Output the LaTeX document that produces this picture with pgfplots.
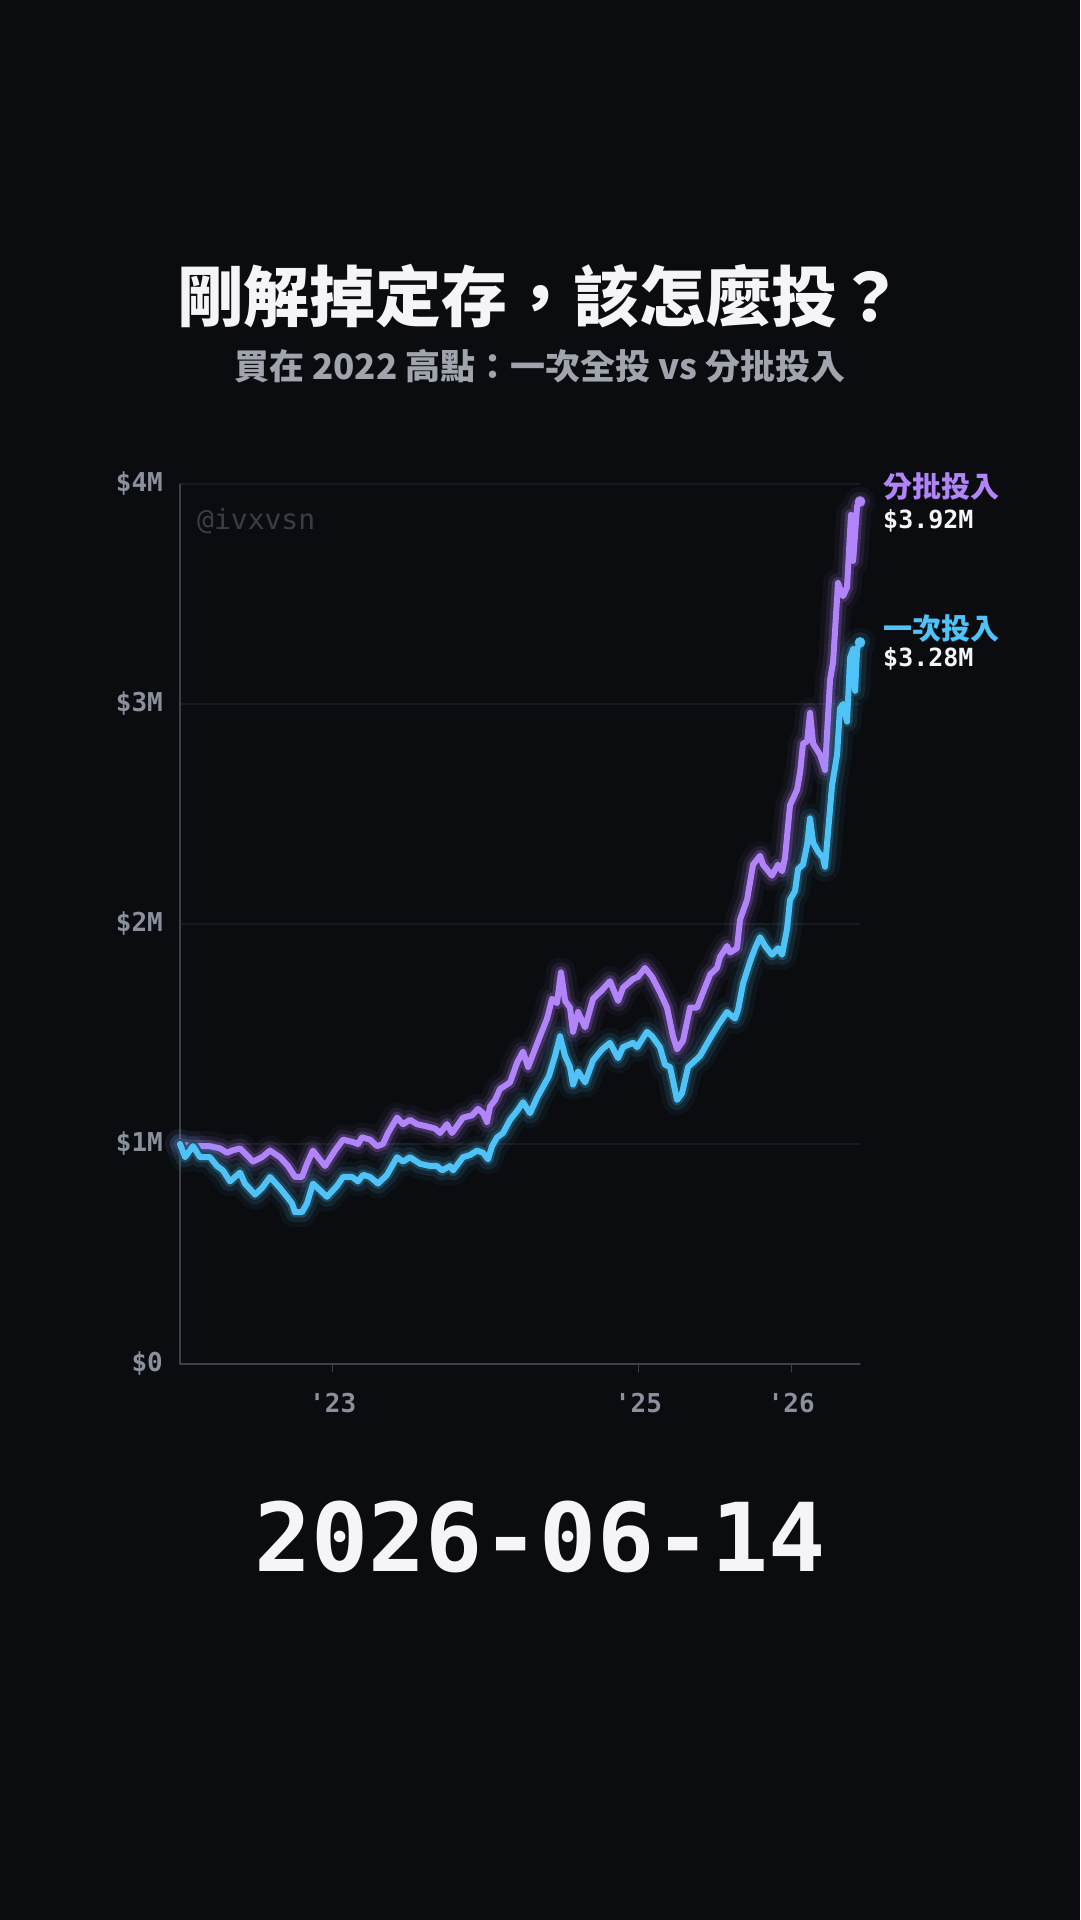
\documentclass[border=0pt]{standalone}
\usepackage{fontspec}
\usepackage{pgfplots}
\usepackage{pgfplotstable}
\pgfplotsset{compat=1.18}
\setmainfont{Noto Sans CJK TC}
\newfontfamily\mono{DejaVu Sans Mono}[Ligatures=TeXOff]
\definecolor{bgc}{HTML}{0A0C10}
\definecolor{cyanl}{HTML}{4FC3F7}
\definecolor{purpl}{HTML}{B284FA}
\definecolor{tickc}{HTML}{8A909C}
\definecolor{subc}{HTML}{A0A4AD}
\definecolor{axisc}{HTML}{3C4049}
\definecolor{gridc}{HTML}{16191F}
\definecolor{wmc}{HTML}{3A3D46}
\definecolor{titlec}{HTML}{F5F5F7}

\pgfplotstableread{
x y
2022.000 1.00
2022.033 0.94
2022.085 0.99
2022.131 0.94
2022.196 0.94
2022.242 0.90
2022.281 0.88
2022.327 0.83
2022.393 0.87
2022.425 0.82
2022.491 0.77
2022.537 0.80
2022.589 0.85
2022.654 0.80
2022.700 0.76
2022.733 0.73
2022.753 0.69
2022.798 0.69
2022.831 0.73
2022.870 0.82
2022.916 0.79
2022.962 0.76
2023.028 0.81
2023.067 0.85
2023.126 0.85
2023.165 0.83
2023.198 0.86
2023.244 0.85
2023.296 0.82
2023.355 0.86
2023.420 0.94
2023.460 0.92
2023.505 0.94
2023.571 0.91
2023.636 0.90
2023.682 0.90
2023.715 0.88
2023.767 0.90
2023.787 0.88
2023.852 0.94
2023.898 0.95
2023.944 0.97
2023.983 0.96
2024.016 0.93
2024.042 0.99
2024.075 1.03
2024.114 1.05
2024.160 1.11
2024.206 1.15
2024.245 1.19
2024.291 1.14
2024.336 1.21
2024.376 1.26
2024.415 1.31
2024.454 1.40
2024.487 1.49
2024.520 1.40
2024.552 1.35
2024.572 1.27
2024.605 1.33
2024.651 1.28
2024.703 1.38
2024.762 1.43
2024.814 1.46
2024.867 1.39
2024.899 1.44
2024.965 1.46
2024.991 1.44
2025.056 1.51
2025.089 1.49
2025.141 1.44
2025.174 1.36
2025.207 1.35
2025.253 1.20
2025.285 1.23
2025.325 1.35
2025.357 1.37
2025.403 1.40
2025.469 1.48
2025.521 1.54
2025.580 1.60
2025.632 1.57
2025.652 1.61
2025.685 1.73
2025.731 1.83
2025.763 1.89
2025.796 1.94
2025.829 1.90
2025.874 1.86
2025.914 1.89
2025.940 1.86
2025.973 1.98
2025.992 2.11
2026.025 2.15
2026.045 2.25
2026.077 2.27
2026.104 2.36
2026.123 2.48
2026.143 2.37
2026.175 2.33
2026.208 2.30
2026.221 2.26
2026.241 2.42
2026.267 2.63
2026.300 2.77
2026.319 2.98
2026.339 3.00
2026.365 2.92
2026.385 3.21
2026.405 3.25
2026.418 3.06
2026.431 3.25
2026.450 3.28
}\lumpsum

\pgfplotstableread{
x y
2022.000 1.00
2022.065 0.99
2022.131 0.99
2022.196 0.99
2022.262 0.98
2022.308 0.96
2022.340 0.97
2022.393 0.98
2022.478 0.92
2022.537 0.94
2022.589 0.97
2022.654 0.94
2022.707 0.90
2022.753 0.85
2022.798 0.85
2022.831 0.91
2022.870 0.97
2022.903 0.94
2022.949 0.90
2023.014 0.97
2023.067 1.02
2023.126 1.01
2023.165 1.00
2023.191 1.03
2023.244 1.02
2023.289 0.99
2023.329 1.00
2023.361 1.05
2023.420 1.12
2023.460 1.09
2023.505 1.11
2023.551 1.09
2023.616 1.08
2023.669 1.07
2023.702 1.05
2023.747 1.09
2023.780 1.05
2023.852 1.12
2023.911 1.13
2023.950 1.16
2023.983 1.14
2024.009 1.10
2024.029 1.17
2024.062 1.20
2024.094 1.25
2024.160 1.28
2024.206 1.37
2024.245 1.42
2024.278 1.35
2024.356 1.49
2024.402 1.57
2024.435 1.66
2024.467 1.64
2024.493 1.78
2024.520 1.65
2024.552 1.62
2024.572 1.51
2024.605 1.60
2024.651 1.53
2024.703 1.66
2024.762 1.70
2024.814 1.74
2024.867 1.65
2024.899 1.71
2024.965 1.75
2024.997 1.76
2025.043 1.80
2025.089 1.76
2025.141 1.69
2025.187 1.62
2025.226 1.49
2025.253 1.43
2025.292 1.47
2025.338 1.62
2025.384 1.62
2025.423 1.69
2025.469 1.77
2025.514 1.80
2025.534 1.85
2025.580 1.90
2025.599 1.87
2025.645 1.89
2025.665 2.02
2025.711 2.11
2025.750 2.27
2025.796 2.31
2025.815 2.27
2025.874 2.22
2025.914 2.27
2025.940 2.24
2025.959 2.30
2025.992 2.54
2026.038 2.61
2026.058 2.69
2026.077 2.82
2026.104 2.83
2026.123 2.96
2026.143 2.82
2026.188 2.77
2026.221 2.70
2026.254 3.11
2026.274 3.19
2026.306 3.55
2026.339 3.49
2026.365 3.53
2026.391 3.86
2026.405 3.65
2026.431 3.90
2026.450 3.92
}\batches

\begin{document}
\begin{tikzpicture}
\fill[bgc] (0,0) rectangle (1080pt,1920pt);
\path[use as bounding box] (0,0) rectangle (1080pt,1920pt);

\begin{axis}[
  at={(180pt,556pt)}, anchor=south west,
  scale only axis, width=680pt, height=880pt,
  xmin=2022, xmax=2026.45, ymin=0, ymax=4,
  clip=false,
  axis x line*=bottom, axis y line*=left,
  axis line style={-, draw=axisc, line width=1.3pt},
  xtick={2023,2025,2026}, xticklabels={'23,'25,'26},
  ytick={0,1,2,3,4}, yticklabels={\$0,\$1M,\$2M,\$3M,\$4M},
  ymajorgrids, grid style={draw=gridc, line width=1.2pt},
  tick label style={font=\mono\bfseries\fontsize{26}{26}\selectfont, text=tickc},
  major tick length=8pt, tick align=outside,
  xtick style={draw=axisc, line width=1.3pt},
  ytick style={draw=none},
  yticklabel style={inner sep=0pt, xshift=-9pt},
  xticklabel style={inner sep=0pt, yshift=-21pt},
  line join=round, line cap=round,
]
% purple (分批投入)
\addplot[purpl, line width=30pt, opacity=0.05] table {\batches};
\addplot[purpl, line width=20pt, opacity=0.10] table {\batches};
\addplot[purpl, line width=12pt, opacity=0.22] table {\batches};
\addplot[purpl, line width=6pt] table {\batches};
% cyan (一次投入)
\addplot[cyanl, line width=30pt, opacity=0.05] table {\lumpsum};
\addplot[cyanl, line width=20pt, opacity=0.10] table {\lumpsum};
\addplot[cyanl!35!bgc, line width=11pt, opacity=0.85] table {\lumpsum};
\addplot[cyanl, line width=6pt] table {\lumpsum};
\addplot[only marks, mark=*, mark size=5pt, purpl] coordinates {(2026.45,3.92)};
\addplot[only marks, mark=*, mark size=5pt, cyanl] coordinates {(2026.45,3.28)};
\end{axis}

\node[anchor=base west, text=wmc, inner sep=0pt] at (197pt,1390pt) {\mono\fontsize{28}{28}\selectfont @ivxvsn};

\node[anchor=base, text=titlec, inner sep=0pt] at (540pt,1598pt) {\fontsize{66}{70}\selectfont\bfseries 剛解掉定存，該怎麼投？};
\node[anchor=base, text=subc, inner sep=0pt] at (540pt,1540pt) {\fontsize{35}{40}\selectfont\bfseries 買在 2022 高點：一次全投 vs 分批投入};

\node[anchor=base west, text=purpl, inner sep=0pt] at (883pt,1422pt) {\fontsize{29}{30}\selectfont\bfseries 分批投入};
\node[anchor=base west, text=titlec, inner sep=0pt] at (883pt,1391pt) {\mono\bfseries\fontsize{25}{25}\selectfont \$3.92M};
\node[anchor=base west, text=cyanl, inner sep=0pt] at (883pt,1280pt) {\fontsize{29}{30}\selectfont\bfseries 一次投入};
\node[anchor=base west, text=titlec, inner sep=0pt] at (883pt,1253pt) {\mono\bfseries\fontsize{25}{25}\selectfont \$3.28M};

\node[anchor=base, text=titlec, inner sep=0pt] at (540pt,348pt) {\mono\bfseries\fontsize{95}{95}\selectfont 2026-06-14};
\end{tikzpicture}
\end{document}
